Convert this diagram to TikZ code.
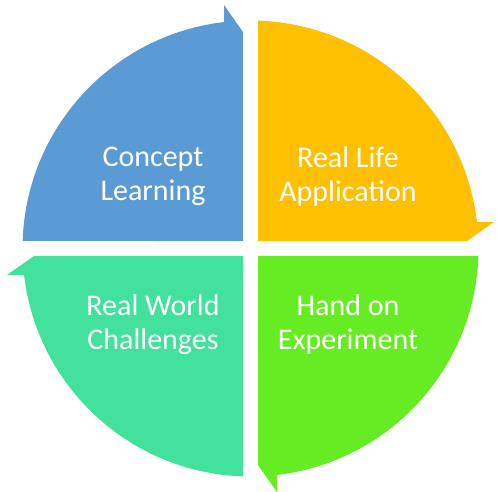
\documentclass[tikz,border=0pt]{standalone}
\usepackage{fontspec}
\setmainfont{Carlito}
\usetikzlibrary{positioning}

\definecolor{conceptblue}{HTML}{5B9BD5}
\definecolor{lifeyellow}{HTML}{FFC000}
\definecolor{handgreen}{HTML}{66EC22}
\definecolor{worldteal}{HTML}{42E19C}

\tikzset{
  quarter/.pic={
    % one quadrant with its barb at the clockwise end
    \fill[pic actions] (-7.5,7.5) -- (178.11:228)
      arc[start angle=178.11, end angle=96.67, radius=228]
      -- (-26.5,243.5) -- (-7.5,216.5) -- cycle;
  },
  label text/.style={text=white, align=center, font=\fontsize{30}{34}\selectfont}
}

\begin{document}
\begin{tikzpicture}[x=1pt,y=1pt]
\useasboundingbox (-250.5,-242.5) rectangle (246.5,248.5);

% The four quadrants, turned clockwise
\pic[fill=conceptblue] {quarter};
\pic[fill=lifeyellow, rotate=-90] {quarter};
\pic[fill=handgreen, rotate=-180] {quarter};
\pic[fill=worldteal, rotate=90] {quarter};

% Labels
\node[label text] (concept) at (-97.5,72) {Concept\\Learning};
\node[label text] (reallife) at (97.5,72) {Real Life\\Application};
\node[label text] (handon) at (97.5,-76) {Hand on\\Experiment};
\node[label text] (realworld) at (-97.5,-76) {Real World\\Challenges};
\end{tikzpicture}
\end{document}
